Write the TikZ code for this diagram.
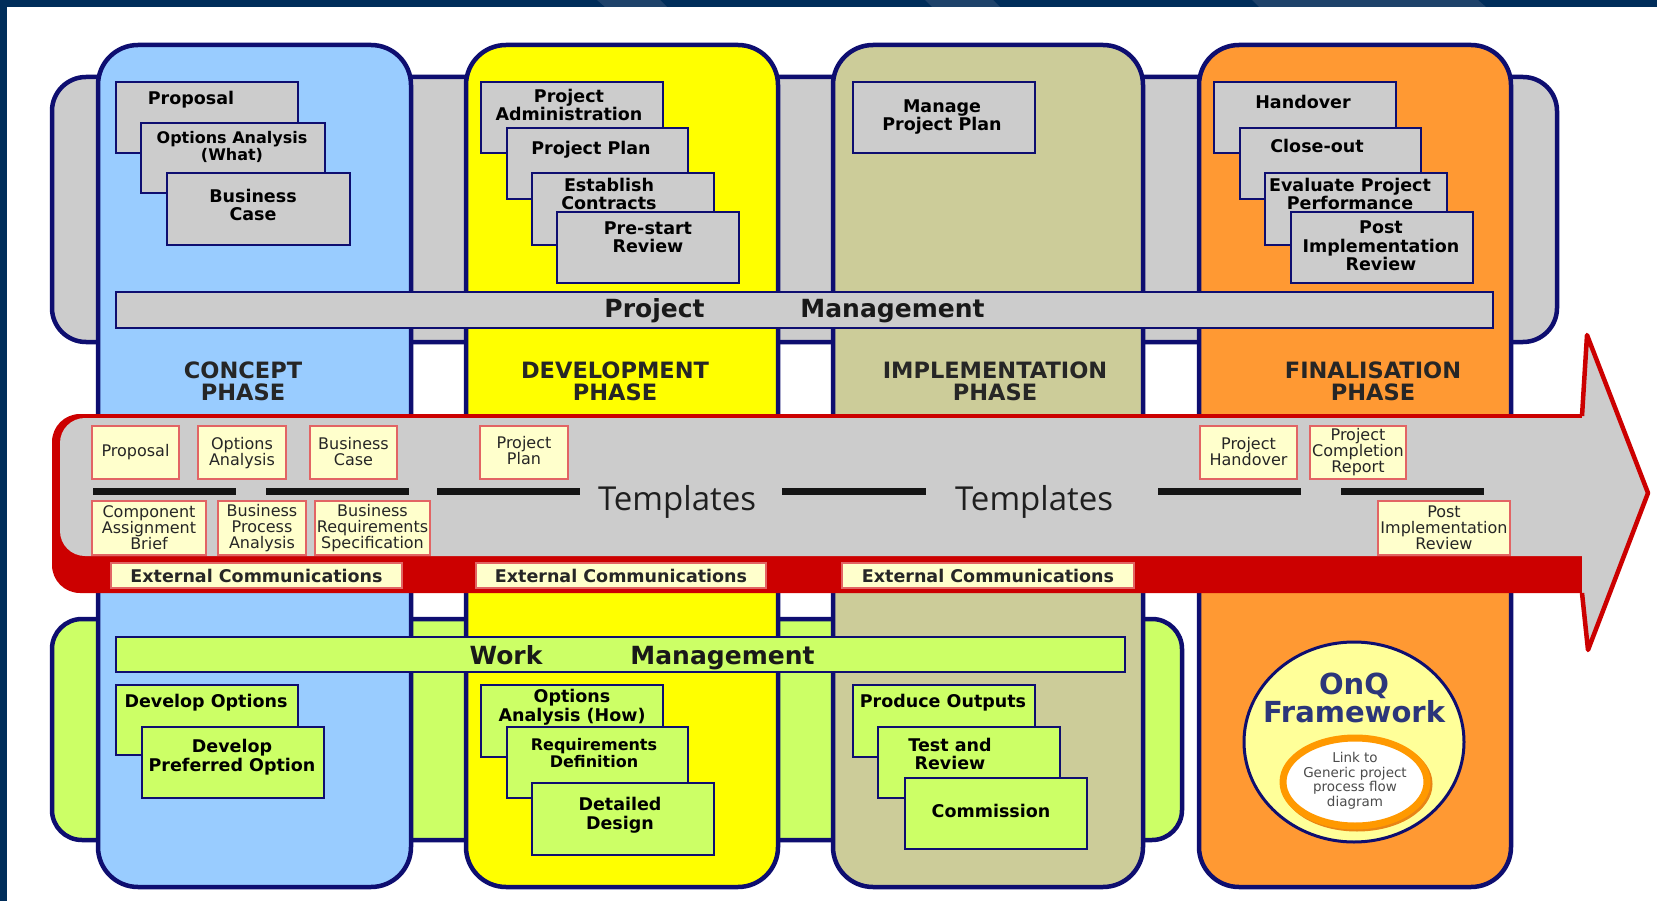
\documentclass[tikz,border=0pt]{standalone}
\usepackage{fontspec}
\setmainfont{DejaVu Sans}
\newfontfamily\tplfont{Open Sans}

\definecolor{navy}{RGB}{14,14,112}
\definecolor{frameblue}{RGB}{0,45,90}
\definecolor{framelight}{RGB}{30,66,106}
\definecolor{concept}{RGB}{153,204,255}
\definecolor{devel}{RGB}{255,255,0}
\definecolor{implem}{RGB}{204,204,153}
\definecolor{final}{RGB}{255,153,51}
\definecolor{pmgrey}{RGB}{204,204,204}
\definecolor{wmgreen}{RGB}{204,255,102}
\definecolor{arrowred}{RGB}{204,0,0}
\definecolor{paleyellow}{RGB}{255,255,204}
\definecolor{tplborder}{RGB}{226,100,100}
\definecolor{onqfill}{RGB}{255,255,153}
\definecolor{onqtext}{RGB}{44,54,122}
\definecolor{ringorange}{RGB}{255,153,0}
\definecolor{ringshadow}{RGB}{232,132,20}

\tikzset{
  phasecol/.style={draw=navy, line width=4.5pt, rounded corners=40pt},
  band/.style={draw=navy, line width=4.5pt, rounded corners=34pt},
  bar/.style={draw=navy, line width=2.5pt},
  taskbox/.style={draw=navy, line width=2pt, fill=pmgrey},
  workbox/.style={draw=navy, line width=2pt, fill=wmgreen},
  tasktext/.style={font=\fontsize{17.5}{18.5}\selectfont\bfseries, align=center, text=black, inner sep=0pt},
  smalltask/.style={tasktext, font=\fontsize{16}{17}\selectfont\bfseries},
  phasetext/.style={font=\fontsize{22.5}{22}\selectfont\bfseries, align=center, text=black!85, inner sep=0pt},
  bartext/.style={font=\fontsize{25}{26}\selectfont\bfseries, text=black!90, inner sep=0pt, anchor=base},
  tplbox/.style={draw=tplborder, line width=1.6pt, fill=paleyellow},
  tpltext/.style={font=\fontsize{16}{16}\selectfont, align=center, inner sep=0pt, text=black!85},
  tplword/.style={font=\tplfont\fontsize{33}{34}\selectfont, text=black!88, inner sep=0pt, anchor=base},
  tplrule/.style={line width=7pt, black!92},
  commtext/.style={font=\fontsize{17.5}{18}\selectfont\bfseries, text=black!85, inner sep=0pt},
}

\begin{document}
\begin{tikzpicture}[x=1pt, y=-1pt]
\useasboundingbox (0,0) rectangle (1657,901);
\fill[white] (0,0) rectangle (1657,901);

% page frame
\fill[frameblue] (0,0) rectangle (1657,7);
\fill[frameblue] (0,0) rectangle (7,901);
\fill[framelight] (597,0) -- (660,0) -- (667,7) -- (605,7) -- cycle;
\fill[framelight] (925,0) -- (993,0) -- (1000,7) -- (932,7) -- cycle;
\fill[framelight] (1252,0) -- (1478,0) -- (1486,7) -- (1259,7) -- cycle;

% management bands behind the phases
\draw[band, fill=pmgrey] (52,77) rectangle (1557,342);
\draw[band, fill=wmgreen, rounded corners=30pt] (52,619) rectangle (1182,840);

% phase columns
\draw[phasecol, fill=concept] (98,45) rectangle (411,887);
\draw[phasecol, fill=devel] (466,45) rectangle (778,887);
\draw[phasecol, fill=implem] (833,45) rectangle (1143,887);
\draw[phasecol, fill=final] (1199,45) rectangle (1511,887);

% Project Management bar
\draw[bar, fill=pmgrey] (116,292) rectangle (1493,328);
\node[bartext] (pm-project) at (654.5,318) {Project};
\node[bartext] (pm-management) at (892.5,318) {Management};

% Work Management bar
\draw[bar, fill=wmgreen] (116,637) rectangle (1125,672);
\node[bartext] (wm-work) at (506,664) {Work};
\node[bartext] (wm-management) at (722.5,664) {Management};

% phase titles
\node[phasetext] (ph-concept) at (243,381) {CONCEPT\\PHASE};
\node[phasetext] (ph-devel) at (615,381) {DEVELOPMENT\\PHASE};
\node[phasetext] (ph-implem) at (995,381) {IMPLEMENTATION\\PHASE};
\node[phasetext] (ph-final) at (1373,381) {FINALISATION\\PHASE};

% project management tasks: concept
\draw[taskbox] (116,82) rectangle (298,153);
\node[tasktext] (pm-proposal) at (191,100) {Proposal};
\draw[taskbox] (141,123) rectangle (325,193);
\node[smalltask] (pm-options) at (232,147) {Options Analysis\\(What)};
\draw[taskbox] (167,173) rectangle (350,245);
\node[tasktext] (pm-business) at (253,205) {Business\\Case};

% project management tasks: development
\draw[taskbox] (481,82) rectangle (663,153);
\node[tasktext] (pm-admin) at (569,105) {Project\\Administration};
\draw[taskbox] (507,128) rectangle (688,199);
\node[tasktext] (pm-plan) at (591,150) {Project Plan};
\draw[taskbox] (532,173) rectangle (714,245);
\node[tasktext] (pm-contracts) at (609,194) {Establish\\Contracts};
\draw[taskbox] (557,212) rectangle (739,283);
\node[tasktext] (pm-prestart) at (648,237) {Pre-start\\Review};

% project management tasks: implementation
\draw[taskbox] (853,82) rectangle (1035,153);
\node[tasktext] (pm-manage) at (942,117) {Manage\\Project Plan};

% project management tasks: finalisation
\draw[taskbox] (1214,82) rectangle (1396,153);
\node[tasktext] (pm-handover) at (1303,102) {Handover};
\draw[taskbox] (1240,128) rectangle (1421,199);
\node[tasktext] (pm-closeout) at (1317,146) {Close-out};
\draw[taskbox] (1265,173) rectangle (1447,245);
\node[tasktext] (pm-evaluate) at (1350,194) {Evaluate Project\\Performance};
\draw[taskbox] (1291,212) rectangle (1473,283);
\node[tasktext] (pm-pir) at (1381,246) {Post\\Implementation\\Review};

% work management tasks: concept
\draw[workbox] (116,685) rectangle (298,755);
\node[tasktext] (wm-devopt) at (206,703) {Develop Options};
\draw[workbox] (142,727) rectangle (324,798);
\node[tasktext] (wm-devpref) at (232,757) {Develop\\Preferred Option};

% work management tasks: development
\draw[workbox] (481,685) rectangle (663,757);
\node[tasktext] (wm-optionshow) at (572,707) {Options\\Analysis (How)};
\draw[workbox] (507,727) rectangle (688,798);
\node[smalltask] (wm-reqdef) at (594,753) {Requirements\\Definition};
\draw[workbox] (532,783) rectangle (714,855);
\node[tasktext] (wm-design) at (620,815) {Detailed\\Design};

% work management tasks: implementation
\draw[workbox] (853,685) rectangle (1035,757);
\node[tasktext] (wm-produce) at (943,703) {Produce Outputs};
\draw[workbox] (878,727) rectangle (1060,798);
\node[tasktext] (wm-test) at (950,754) {Test and\\Review};
\draw[workbox] (905,778) rectangle (1087,849);
\node[tasktext] (wm-commission) at (991,811) {Commission};

% templates arrow: body with red rim and bottom band
\fill[arrowred] (1583,414) -- (80,414)
  arc[start angle=90, end angle=180, radius=28pt] -- (52,565)
  arc[start angle=180, end angle=270, radius=28pt] -- (1583,593) -- cycle;
\fill[pmgrey] (1583,418) -- (85,418)
  arc[start angle=90, end angle=180, radius=25pt] -- (60,531)
  arc[start angle=180, end angle=270, radius=25pt] -- (1583,556) -- cycle;
% arrow head
\fill[pmgrey] (1582,416) -- (1587,335) -- (1648,493) -- (1588,650) -- (1582,593) -- cycle;
\draw[arrowred, line width=4.5pt, line join=round]
  (1582,416) -- (1587,335) -- (1648,493) -- (1588,650) -- (1582,593);

% template separators and labels
\draw[tplrule] (93,491) -- (236,491);
\draw[tplrule] (266,491) -- (409,491);
\draw[tplrule] (437,491) -- (580,491);
\draw[tplrule] (782,491) -- (926,491);
\draw[tplrule] (1158,491) -- (1301,491);
\draw[tplrule] (1341,491) -- (1484,491);
\node[tplword] (tpl-label-a) at (677,510) {Templates};
\node[tplword] (tpl-label-b) at (1034,510) {Templates};

% template documents, upper row
\draw[tplbox] (92,426) rectangle (179,479);
\node[tpltext] (tpl-proposal) at (135.5,452) {Proposal};
\draw[tplbox] (198,426) rectangle (286,479);
\node[tpltext] (tpl-options) at (242,453) {Options\\Analysis};
\draw[tplbox] (310,426) rectangle (397,479);
\node[tpltext] (tpl-business) at (353.5,452) {Business\\Case};
\draw[tplbox] (480,426) rectangle (568,479);
\node[tpltext] (tpl-plan) at (524,451) {Project\\Plan};
\draw[tplbox] (1200,426) rectangle (1297,479);
\node[tpltext] (tpl-handover) at (1248.5,452) {Project\\Handover};
\draw[tplbox] (1310,426) rectangle (1406,479);
\node[tpltext] (tpl-completion) at (1358,452) {Project\\Completion\\Report};

% template documents, lower row
\draw[tplbox] (92,501) rectangle (206,555);
\node[tpltext] (tpl-cab) at (149,528) {Component\\Assignment\\Brief};
\draw[tplbox] (218,501) rectangle (306,555);
\node[tpltext] (tpl-bpa) at (262,528) {Business\\Process\\Analysis};
\draw[tplbox] (315,501) rectangle (430,555);
\node[tpltext] (tpl-brs) at (372.5,528) {Business\\Requirements\\Specification};
\draw[tplbox] (1378,501) rectangle (1510,555);
\node[tpltext] (tpl-pir) at (1444,528) {Post\\Implementation\\Review};

% external communications
\draw[tplbox] (111,563) rectangle (402,588);
\node[commtext] (comm-a) at (256.5,575.5) {External Communications};
\draw[tplbox] (476,563) rectangle (766,588);
\node[commtext] (comm-b) at (621,575.5) {External Communications};
\draw[tplbox] (842,563) rectangle (1134,588);
\node[commtext] (comm-c) at (988,575.5) {External Communications};

% OnQ framework badge
\draw[navy, line width=3pt, fill=onqfill] (1354,742) ellipse [x radius=110pt, y radius=100pt];
\node[font=\fontsize{29}{29}\selectfont\bfseries, text=onqtext, inner sep=0pt, anchor=base] (onq-title) at (1354,694) {OnQ};
\node[font=\fontsize{29}{29}\selectfont\bfseries, text=onqtext, inner sep=0pt, anchor=base] (onq-framework) at (1354,722) {Framework};
\draw[ringshadow, line width=7pt] (1357,784) ellipse [x radius=72pt, y radius=44pt];
\draw[ringorange, line width=7pt, fill=white] (1355,782) ellipse [x radius=72pt, y radius=44pt];
\node[font=\fontsize{13.5}{14.5}\selectfont, text=black!70, align=center, inner sep=0pt] (onq-link) at (1355,781)
  {Link to\\Generic project\\process flow\\diagram};
\end{tikzpicture}
\end{document}
